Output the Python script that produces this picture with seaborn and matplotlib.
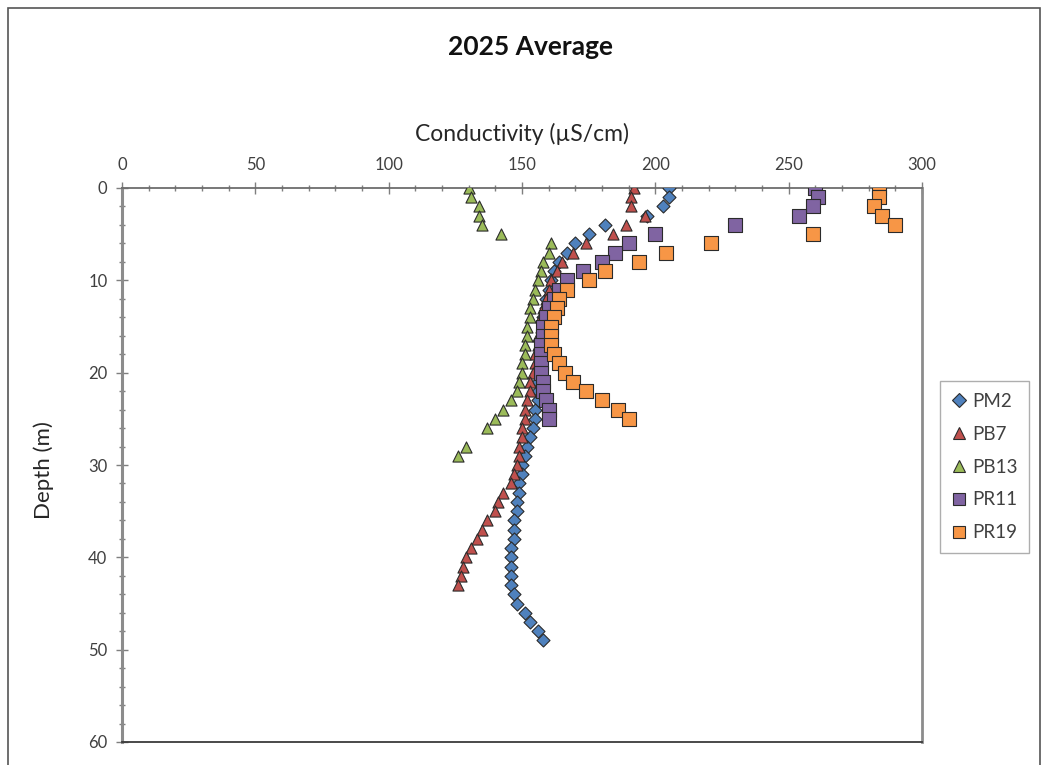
import numpy as np
import pandas as pd
import matplotlib
matplotlib.use("Agg")
import matplotlib.pyplot as plt
import seaborn as sns
from matplotlib.ticker import MultipleLocator
from matplotlib.lines import Line2D
from matplotlib.patches import Rectangle

# ---------------- data ----------------
sites = ["PM2", "PB7", "PB13", "PR11", "PR19"]

pm2_depth = list(range(0, 50))
pm2_cond = [205, 205, 203, 197, 181, 175, 170, 167, 164, 162,
            161, 160, 159, 159, 158, 158, 158, 157, 157, 157,
            157, 156, 156, 156, 155, 155, 154, 153, 152, 151,
            150, 150, 149, 149, 148, 148, 147, 147, 147, 146,
            146, 146, 146, 146, 147, 148, 151, 153, 156, 158]

pb7_depth = list(range(0, 44))
pb7_cond = [192, 191, 191, 196, 189, 184, 174, 169, 165, 163,
            161, 160, 159, 158, 157, 157, 156, 156, 155, 155,
            154, 153, 153, 152, 151, 151, 150, 150, 149, 149,
            148, 147, 146, 143, 141, 140, 137, 135, 133, 131,
            129, 128, 127, 126]

pb13_depth = list(range(0, 27)) + [28, 29]
pb13_cond = [130, 131, 134, 134, 135, 142, 161, 160, 158, 157,
             156, 155, 154, 153, 153, 152, 152, 151, 151, 150,
             150, 149, 148, 146, 143, 140, 137, 129, 126]

pr11_depth = list(range(0, 26))
pr11_cond = [260, 261, 259, 254, 230, 200, 190, 185, 180, 173,
             167, 164, 162, 160, 159, 158, 158, 157, 157, 157,
             157, 158, 158, 159, 160, 160]

pr19_depth = list(range(0, 26))
pr19_cond = [284, 284, 282, 285, 290, 259, 221, 204, 194, 181,
             175, 167, 164, 163, 162, 161, 161, 161, 162, 164,
             166, 169, 174, 180, 186, 190]

depths = [pm2_depth, pb7_depth, pb13_depth, pr11_depth, pr19_depth]
conds = [pm2_cond, pb7_cond, pb13_cond, pr11_cond, pr19_cond]

frames = []
for s, d, c in zip(sites, depths, conds):
    frames.append(pd.DataFrame({"Site": s, "Depth": d, "Conductivity": c}))
df = pd.concat(frames, ignore_index=True)

colors = {"PM2": "#4F81BD", "PB7": "#C0504D", "PB13": "#9BBB59",
          "PR11": "#8064A2", "PR19": "#F79646"}
markers = {"PM2": "D", "PB7": "^", "PB13": "^", "PR11": "s", "PR19": "s"}
msize = {"PM2": 44, "PB7": 64, "PB13": 64, "PR11": 90, "PR19": 90}

# ---------------- figure ----------------
sns.set_style("white")
plt.rcParams["font.family"] = ["Lato", "DejaVu Sans"]

fig = plt.figure(figsize=(10.45, 7.65), dpi=100)
ax = fig.add_axes([122 / 1045, 1 - 742 / 765, 800 / 1045, (742 - 188) / 765])

for s in sites:
    sub = df[df["Site"] == s]
    sns.scatterplot(data=sub, x="Conductivity", y="Depth", ax=ax,
                    color=colors[s], marker=markers[s], s=msize[s],
                    edgecolor="#2b2b2b", linewidth=0.8, legend=False, zorder=3)

ax.set_xlim(0, 300)
ax.set_ylim(60, 0)
ax.xaxis.tick_top()
ax.xaxis.set_label_position("top")
ax.xaxis.set_major_locator(MultipleLocator(50))
ax.xaxis.set_minor_locator(MultipleLocator(10))
ax.yaxis.set_major_locator(MultipleLocator(10))
ax.yaxis.set_minor_locator(MultipleLocator(2))
ax.tick_params(axis="both", which="major", direction="inout", length=9,
               width=1, color="#7f7f7f", labelsize=12, labelcolor="#404040", pad=6)
ax.tick_params(axis="both", which="minor", direction="inout", length=5,
               width=1, color="#7f7f7f")
ax.tick_params(axis="x", which="both", top=True, bottom=False)
ax.tick_params(axis="y", which="both", left=True, right=False)

ax.set_xlabel("Conductivity (µS/cm)", fontsize=16.5, color="#262626", labelpad=12)
ax.set_ylabel("Depth (m)", fontsize=16, color="#262626")
ax.yaxis.set_label_coords(-0.085, 0.49)

for side, sp in ax.spines.items():
    sp.set_visible(True)
    sp.set_color("#8c8c8c")
    sp.set_linewidth(1.3)
ax.spines["left"].set_linewidth(2.2)
ax.spines["top"].set_color("#6d6d6d")
ax.spines["bottom"].set_color("#3a3a3a")
ax.spines["right"].set_linewidth(2.0)

fig.text(530 / 1045, 1 - 47 / 765, "2025 Average", ha="center", va="center",
         fontsize=19, fontweight="bold", color="#111111")

handles = [Line2D([0], [0], linestyle="none", marker=markers[s],
                  markersize=(7 if s == "PM2" else 9),
                  markerfacecolor=colors[s], markeredgecolor="#2b2b2b",
                  markeredgewidth=0.8, label=s) for s in sites]
leg = fig.legend(handles=handles, loc="center left",
                 bbox_to_anchor=(940 / 1045, 1 - 467 / 765),
                 frameon=True, fancybox=False, fontsize=13.5,
                 labelspacing=0.85, handlelength=0.8, handletextpad=0.3,
                 borderpad=0.6, borderaxespad=0)
leg.get_frame().set_edgecolor("#9a9a9a")
leg.get_frame().set_linewidth(1.0)
for t in leg.get_texts():
    t.set_color("#404040")

border = Rectangle((8 / 1045, -0.02), (1040 - 8) / 1045, 1 - 8 / 765 + 0.02,
                   transform=fig.transFigure, fill=False,
                   edgecolor="#555555", linewidth=1.2)
fig.patches.append(border)

fig.savefig("out.png", dpi=100)
